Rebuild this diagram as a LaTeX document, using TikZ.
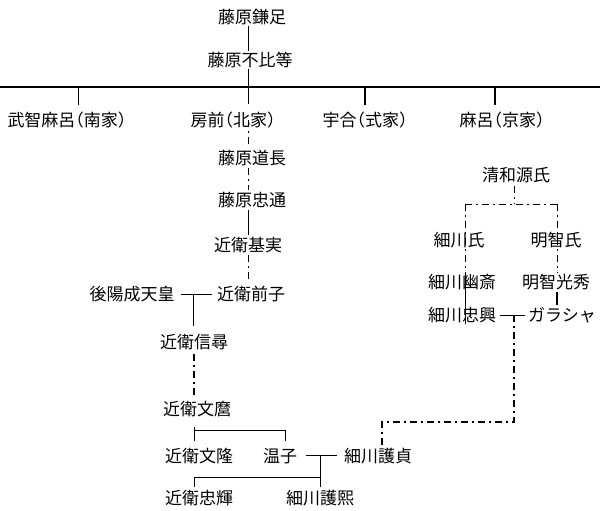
\documentclass[tikz,border=0pt]{standalone}
\usepackage{fontspec}
\setmainfont{Noto Sans CJK JP}[RawFeature={+halt}]
\begin{document}
\begin{tikzpicture}[x=1pt,y=-1pt,
  every node/.style={font=\fontsize{17pt}{19pt}\selectfont, inner sep=1pt, anchor=center},
  ln/.style={line width=1pt, line cap=butt},
  lnthick/.style={line width=2pt, line cap=butt},
  dd/.style={line width=1pt, dash pattern=on 7pt off 4pt on 2pt off 4pt},
  ddthick/.style={line width=2pt, dash pattern=on 7pt off 4pt on 2pt off 4pt}]
\useasboundingbox (0,0) rectangle (600,511);
% nodes
\node (kamatari) at (252,17) {藤原鎌足};
\node (fuhito) at (250,60) {藤原不比等};
\node (muchimaro) at (67,120) {武智麻呂（南家）};
\node (fusasaki) at (233,120) {房前（北家）};
\node (umakai) at (365,120) {宇合（式家）};
\node (maro) at (502,120) {麻呂（京家）};
\node (michinaga) at (252,158) {藤原道長};
\node (tadamichi) at (252,200) {藤原忠通};
\node (motozane) at (248,245) {近衛基実};
\node (sakiko) at (251,294) {近衛前子};
\node (goyozei) at (132,294) {後陽成天皇};
\node (nobuhiro) at (194,342) {近衛信尋};
\node (fumimaro) at (197,409) {近衛文麿};
\node (fumidaka) at (199,456) {近衛文隆};
\node (atsuko) at (280,456) {温子};
\node (morisada) at (378,456) {細川護貞};
\node (tadateru) at (199,498) {近衛忠輝};
\node (morihiro) at (320,498) {細川護熙};
\node (seiwa) at (516,175) {清和源氏};
\node (hosokawashi) at (459,240) {細川氏};
\node (akechishi) at (556,240) {明智氏};
\node (yusai) at (462,282) {細川幽斎};
\node (mitsuhide) at (556,282) {明智光秀};
\node (tadaoki) at (462,315) {細川忠興};
\node (gracia) at (562,315) {ガラシャ};
% coordinates
\coordinate (bL) at (0,87);
\coordinate (bR) at (600,87);
\coordinate (b1) at (78,87);
\coordinate (b2) at (248,87);
\coordinate (b3) at (365,87);
\coordinate (b4) at (495,87);
\coordinate (f1) at (248,120);
\coordinate (m1) at (193,294);
\coordinate (k1) at (194,430);
\coordinate (k2) at (285,430);
\coordinate (m3) at (320,455);
\coordinate (k3) at (194,477);
\coordinate (s0) at (514,204);
\coordinate (cL) at (465,204);
\coordinate (cR) at (557,204);
\coordinate (m2) at (514,315);
\coordinate (c3) at (514,422);
\coordinate (c4) at (382,422);
% Fujiwara top
\draw[ln] (kamatari.south -| b2) -- (fuhito.north -| b2);
\draw[ln] (fuhito.south -| b2) -- (b2);
\draw[lnthick] (bL) -- (bR);
\draw[ln, shorten >=6pt] (b1) -- (b1 |- muchimaro.north);
\draw[ln, shorten >=7pt] (b2) -- (b2 |- fusasaki.north);
\draw[lnthick, shorten >=6pt] (b3) -- (b3 |- umakai.north);
\draw[lnthick, shorten >=6pt] (b4) -- (b4 |- maro.north);
% Fujiwara main line
\draw[dd, shorten >=2pt] (f1) -- (f1 |- michinaga.north);
\draw[dd, shorten <=1pt, shorten >=1pt] (f1 |- michinaga.south) -- (f1 |- tadamichi.north);
\draw[ln, shorten <=1pt, shorten >=1pt] (f1 |- tadamichi.south) -- (f1 |- motozane.north);
\draw[dd, shorten <=1pt, shorten >=2pt] (f1 |- motozane.south) -- (f1 |- sakiko.north);
% Goyozei - Sakiko
\draw[ln, shorten <=5pt, shorten >=4pt] (goyozei.east) -- (sakiko.west);
\draw[ln, shorten >=7pt] (m1) -- (m1 |- nobuhiro.north);
\draw[ddthick, shorten <=3pt, shorten >=3pt] (nobuhiro.south -| k1) -- (fumimaro.north -| k1);
% Fumimaro children
\draw[ln, shorten <=-3pt, shorten >=6pt] (k1) -- (k1 |- fumidaka.north);
\draw[ln, shorten >=6pt] (k1) -- (k2) -- (k2 |- atsuko.north);
% Atsuko - Morisada
\draw[ln, shorten <=8pt, shorten >=6pt] (atsuko.east |- m3) -- (morisada.west |- m3);
\draw[ln, shorten >=2pt] (m3) -- (m3 |- morihiro.north);
\draw[ln, shorten >=2pt] (m3 |- k3) -- (k3) -- (k3 |- tadateru.north);
% Seiwa Genji
\draw[dd, shorten <=2pt] (seiwa.south -| s0) -- (s0);
\draw[dd] (cL) -- (cR);
\draw[dd] (cL) -- (cL |- yusai.north);
\draw[ln] (cL |- yusai.north) -- (cL |- tadaoki.south);
\draw[dd] (cR) -- (cR |- mitsuhide.north);
\draw[lnthick, shorten <=1pt, shorten >=1pt] (cR |- mitsuhide.south) -- (cR |- gracia.north);
% Tadaoki - Gracia
\draw[ln, shorten <=3pt, shorten >=2pt] (tadaoki.east) -- (gracia.west);
\draw[ddthick] (m2) -- (c3) -- (c4) -- (c4 |- morisada.north);
\end{tikzpicture}
\end{document}
